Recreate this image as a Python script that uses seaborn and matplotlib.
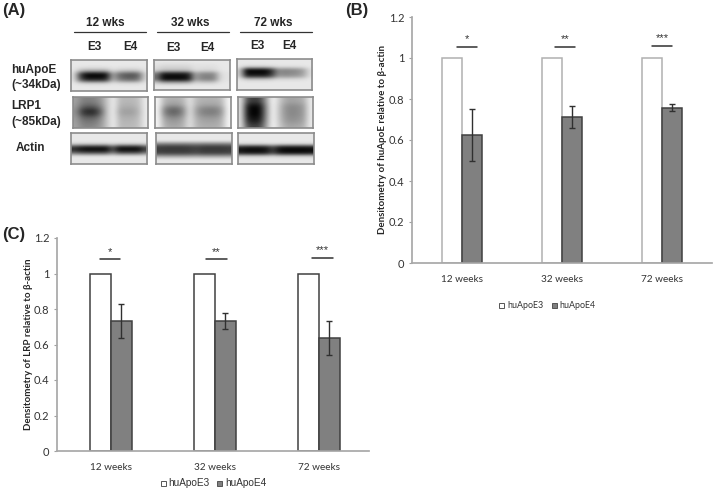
import matplotlib
matplotlib.use('Agg')
import matplotlib.pyplot as plt
import numpy as np
import pandas as pd
import seaborn as sns

weeks = ['12 weeks', '32 weeks', '72 weeks']
groups = ['huApoE3', 'huApoE4']
stars = ['*', '**', '***']
e3_b = [1, 1, 1]
e4_b = [0.625, 0.712, 0.758]
err_b = [0.128, 0.054, 0.016]
line_b = [1.054, 1.054, 1.059]
e3_c = [1, 1, 1]
e4_c = [0.733, 0.732, 0.636]
err_c = [0.094, 0.045, 0.097]
line_c = [1.08, 1.08, 1.09]

blot_ages = ['12 wks', '32 wks', '72 wks']

# blots: background per lane column, darkness per column, band shape per row
bg_flat = [232] * 12
apoe_12 = (bg_flat, [10, 170, 225, 225, 225, 215, 60, 120, 140, 145, 130, 20],
           [0, 0, .05, .3, 1, 1, .8, .1, 0, 0])
apoe_32 = (bg_flat, [120, 225, 225, 225, 225, 210, 70, 100, 105, 100, 15, 5],
           [0, .05, .1, .2, .9, 1, .95, .3, 0, 0])
apoe_72 = (bg_flat, [30, 225, 225, 225, 225, 180, 90, 100, 95, 90, 70, 10],
           [0, 0, .1, 1, 1, .85, .15, 0, 0, 0])
lrp_12 = ([165, 150, 150, 155, 165, 200, 240, 190, 190, 190, 195, 235],
          [20, 90, 110, 110, 60, 0, 0, 25, 30, 30, 15, 0],
          [.2, .25, .4, .7, 1, .9, .55, .35, .25, .15])
lrp_32 = ([245, 190, 185, 185, 190, 230, 190, 185, 185, 185, 190, 245],
          [0, 60, 85, 85, 50, 0, 30, 55, 60, 60, 40, 0],
          [.1, .2, .35, .8, 1, .9, .6, .4, .3, .2])
lrp_72 = ([225, 120, 110, 115, 170, 250, 215, 190, 185, 190, 190, 235],
          [0, 95, 110, 105, 30, 0, 15, 40, 50, 50, 35, 0],
          [.45, .5, .8, 1, 1, 1, .9, .8, .6, .4])
actin_12 = (bg_flat, [190, 215, 225, 225, 225, 225, 150, 225, 225, 225, 225, 170],
            [0, 0, 0, .1, .9, 1, .6, 0, 0, 0])
actin_32 = (bg_flat, [170, 175, 175, 175, 175, 170, 165, 175, 175, 175, 175, 170],
            [0, 0, 0, .6, 1, 1, .95, .4, 0, 0])
actin_72 = (bg_flat, [215, 225, 225, 225, 215, 170, 220, 230, 230, 230, 230, 225],
            [0, 0, 0, .05, .9, 1, .9, .1, 0, 0])

sns.set_theme(style='white')
plt.rcParams['font.family'] = ['Liberation Sans', 'DejaVu Sans']

W, H = 715, 495
fig = plt.figure(figsize=(W / 100, H / 100), dpi=100)


def box(x0, y0, x1, y1):
    return [x0 / W, 1 - y1 / H, (x1 - x0) / W, (y1 - y0) / H]


def bars(rect, xlim, e3, e4, err, lines, offs, ylabel, lab_x, e3_edge, leg_x, text_x, leg_y, leg_fs, leg_font):
    ax = fig.add_axes(box(*rect))
    df = pd.DataFrame({'week': weeks * 2,
                       'group': [groups[0]] * 3 + [groups[1]] * 3,
                       'value': e3 + e4})
    sns.barplot(data=df, x='week', y='value', hue='group', ax=ax,
                palette=['white', '#808080'], width=0.4, gap=0,
                saturation=1, linewidth=1.1, legend=False)
    for p in ax.patches[:3]:
        p.set_edgecolor(e3_edge)
    for p in ax.patches[3:6]:
        p.set_edgecolor('#404040')
    for i in range(3):
        ax.errorbar(i + 0.1, e4[i], yerr=err[i], color='#303030', lw=1,
                    capsize=2, capthick=1)
        ax.plot([i + offs[i] - 0.1, i + offs[i] + 0.1], [lines[i]] * 2, color='#303030', lw=1.1)
        ax.text(i + offs[i], lines[i] + 0.012, stars[i], ha='center', va='bottom',
                fontsize=8, color='#333333')
    ax.set_ylim(0, 1.2)
    ax.set_xlim(*xlim)
    ax.set_yticks([0, 0.2, 0.4, 0.6, 0.8, 1, 1.2])
    ax.set_yticklabels(['0', '0.2', '0.4', '0.6', '0.8', '1', '1.2'], family='Lato')
    ax.set_xticks([0, 1, 2])
    ax.set_xticklabels(weeks, family='Lato')
    ax.set_xlabel('')
    ax.set_ylabel(ylabel, fontsize=7, fontweight='bold', family='Lato')
    ax.yaxis.set_label_coords((lab_x - rect[0]) / (rect[2] - rect[0]), 0.5)
    ax.tick_params(axis='y', labelsize=8, length=2.5, width=0.8, color='#a0a0a0',
                   labelcolor='#333333', pad=3, left=True)
    ax.tick_params(axis='x', labelsize=7.2, length=0, labelcolor='#333333', pad=9)
    sns.despine(ax=ax)
    ax.spines['left'].set_color('#a8a8a8')
    ax.spines['bottom'].set_color('#a8a8a8')
    for j, g in enumerate(groups):
        col = ['white', '#808080'][j]
        fig.add_artist(plt.Rectangle((leg_x[j] / W, 1 - (leg_y + 2.5) / H), 5 / W, 5 / H,
                                     transform=fig.transFigure, fc=col,
                                     ec='#555555', lw=0.7))
        fig.text(text_x[j] / W, 1 - leg_y / H, g, fontsize=leg_fs, color='#333333',
                 va='center', ha='left', family=leg_font)
    return ax


bars((412, 17, 712, 263), (-0.5, 2.5), e3_b, e4_b, err_b, line_b, [.05, .03, 0],
     'Densitometry of huApoE relative to β-actin', 387, '#b0b0b0',
     (499, 552), (507, 559), 305, 6.4, 'Lato')
bars((57, 238, 369, 451), (-0.52, 2.48), e3_c, e4_c, err_c, line_c, [-.01, .01, .03],
     'Densitometry of LRP relative to β-actin', 33, '#404040',
     (161, 217), (168, 225), 483, 7.2, 'Liberation Sans')

# panel letters
for s, x, y in [('(A)', 2, 11), ('(B)', 345, 11), ('(C)', 2, 235)]:
    fig.text(x / W, 1 - y / H, s, fontsize=12, fontweight='bold', va='center')

# blot panels
blots = [(apoe_12, 71, 60, 147, 91), (apoe_32, 154, 60, 230, 90), (apoe_72, 237, 59, 312, 90),
         (lrp_12, 73, 97, 148, 128), (lrp_32, 155, 97, 231, 128), (lrp_72, 238, 97, 313, 128),
         (actin_12, 71, 133, 147, 164), (actin_32, 156, 133, 232, 164), (actin_72, 238, 133, 314, 164)]
for (bg, dark, rows), x0, y0, x1, y1 in blots:
    ax = fig.add_axes(box(x0, y0, x1, y1))
    img = np.array(bg) - np.outer(rows, dark)
    ax.imshow(img, cmap='gray', vmin=0, vmax=255, aspect='auto', interpolation='bicubic')
    ax.set_xticks([])
    ax.set_yticks([])
    for s in ax.spines.values():
        s.set_visible(True)
        s.set_color('#8c8c8c')
        s.set_linewidth(1.2)

# blot headers
for s, x0, x1, xc in zip(blot_ages, [74, 157, 240], [146, 229, 312], [105, 190, 273]):
    fig.text(xc / W, 1 - 23 / H, s, fontsize=8.5, fontweight='bold', ha='center', va='center')
    fig.add_artist(plt.Line2D([x0 / W, x1 / W], [1 - 32 / H] * 2, color='#333333', lw=0.9))
for s, x, y in [('E3', 94, 47), ('E4', 130, 47), ('E3', 173, 48), ('E4', 207, 48), ('E3', 257, 46), ('E4', 289, 46)]:
    fig.text(x / W, 1 - y / H, s, fontsize=8.5, fontweight='bold', ha='center', va='center')
for s, x, y in [('huApoE', 11, 70), ('(~34kDa)', 11, 85), ('LRP1', 11, 106), ('(~85kDa)', 11, 122), ('Actin', 16, 148)]:
    fig.text(x / W, 1 - y / H, s, fontsize=8.5, fontweight='bold', ha='left', va='center')

fig.savefig('out.png', dpi=100)
